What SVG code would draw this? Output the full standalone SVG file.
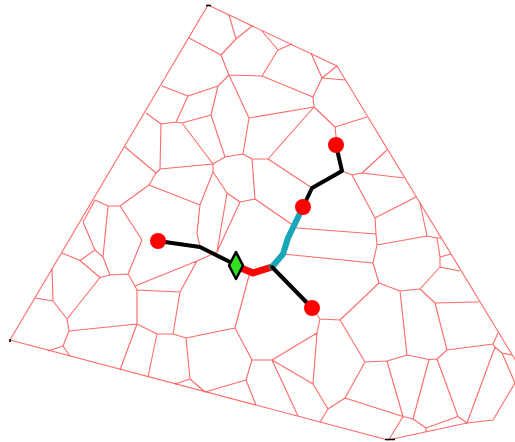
<svg xmlns="http://www.w3.org/2000/svg" width="515" height="442" viewBox="0 0 515 442">
<style>
.cell{fill:none;stroke:#ff4444;stroke-width:1.1;stroke-opacity:0.8;stroke-linejoin:round}
.path{fill:none;stroke-linecap:round;stroke-linejoin:round}
.blk{stroke:#000;stroke-width:4}
.site{fill:#ff0000}
.tick{stroke:#000;stroke-width:1.6}
</style>
<rect width="515" height="442" fill="#fff"/>
<g id="cells">
<path class="cell" d="M208,5L337,66L522,371L493,420L467,423L388,440L10,340Z"/>
<path class="cell" d="M229,15L236,39 M236,39L252,26 M236,39L221,55 M189,38L221,55 M221,55L229,75 M229,75L262,76 M262,76L278,50 M278,50L262,31 M278,50L292,44 M262,76L313,97 M311,53L322,78 M322,78L337,66 M322,78L345,80 M322,78L313,97 M313,97L314,107 M314,107L249,118 M314,107L335,127 M335,127L367,117 M335,127L337,145L342,171 M314,107L268,159 M229,75L218,86 M218,86L188,96 M162,86L188,96 M188,96L176,122 M176,122L182,123 M176,122L161,124 M146,113L161,124 M182,123L211,115 M218,86L211,115 M229,75L249,118 M249,118L243,154 M211,115L225,157 M182,123L213,164 M161,124L160,169 M160,169L213,164 M213,164L225,157 M225,157L243,154 M243,154L252,159 M252,159L268,159 M268,159L312,188 M312,188L342,171 M342,171L352,175 M352,175L362,173 M362,173L387,150 M362,173L404,178 M352,175L375,218 M375,218L416,197 M375,218L376,234 M376,234L297,228 M376,234L377,245 M377,245L427,236 M427,236L420,203 M427,236L437,238 M437,238L441,238 M437,238L440,257 M440,257L451,254 M440,257L440,267 M440,267L460,271 M440,267L420,289 M377,245L373,263 M373,263L283,254 M373,263L379,283 M379,283L340,320 M379,283L400,291 M400,291L420,289 M420,289L435,303 M435,303L479,302 M435,303L447,350 M400,291L407,355 M407,355L429,359.5 M429,359.5L437,359 M437,359L447,350 M447,350L493,344 M493,344L498,333 M493,344L495,347 M495,347L502,353 M502,353L512,355 M502,353L515,383 M495,347L467,423 M437,359L458,416.5 M458,416.5L467,423 M429,359.5L413,419 M413,419L426,428 M426,428L426,432 M426,428L458,416.5 M407,355L387,361 M387,361L365,362 M365,362L340,320 M365,362L345,398 M387,361L403,416.5 M403,416.5L413,419 M403,416.5L389,439.5 M345,398L403,416.5 M345,398L328,409 M328,409L320,422 M328,409L313,384 M313,384L317,333 M313,384L272,360 M317,333L320,319 M320,319L340,320 M320,319L314,311 M317,333L272,360 M272,360L252,360 M272,360L298,416 M252,360L235,328 M252,360L246,380 M246,380L256,405 M246,380L205,392 M235,328L250,272 M235,328L186,338 M186,338L190,379 M190,379L175,384 M190,379L205,392 M186,338L173,334 M173,334L157,334 M173,334L180,292 M157,334L137,324 M157,334L148,377 M137,324L120,370 M137,324L137,290 M137,324L69,331 M69,331L67,319 M69,331L63,346 M63,346L48,351 M63,346L70,356 M67,319L53,301 M53,301L35,298 M53,301L52,269 M67,319L100,277.5 M100,277.5L80,260.5 M80,260.5L62,253 M80,260.5L95,250 M95,250L83,222 M83,222L95,200 M95,250L103,257 M103,257L110,275 M100,277.5L110,275 M110,275L128,274 M128,274L135,286 M135,286L137,290 M128,274L142,240 M142,240L120,206 M103,257L108,206 M108,206L95,200 M108,206L120,206 M120,206L149,185 M149,185L156,173 M156,173L125,147 M156,173L160,169 M149,185L200,205 M137,290L180,292 M135,286L197,261 M180,292L197,261 M197,261L217,252 M217,252L227,193 M217,252L240,202 M240,202L227,193 M227,193L213,172 M213,172L213,164 M213,172L200,205 M240,202L255,199 M255,199L252,159 M255,199L297,228 M200,205L197,233L200,247"/>
<path class="tick" d="M206,5.5H211 M10,339V342 M385,439.5H395"/>
</g>
<g id="connectors">
<path class="path blk" d="M158,241L200,247L236,265"/>
<path class="path" stroke="#ff0000" stroke-width="7" d="M241,268L253,273L272,267"/>
<path class="path" stroke="#17a7b8" stroke-width="6" d="M272,267L283,254L288,238L303,207"/>
<path class="path blk" d="M272,267L312,308"/>
<path class="path blk" d="M303,207L312,188L342,171L336,145"/>
</g>
<g id="site-1"><circle class="site" cx="158" cy="241" r="8"/></g>
<g id="site-2"><circle class="site" cx="303" cy="207" r="8"/></g>
<g id="site-3"><circle class="site" cx="336" cy="145" r="8"/></g>
<g id="site-4"><circle class="site" cx="312" cy="308" r="8"/></g>
<g id="start"><polygon points="236,252 243,265.5 236,279 229,265.5" fill="#33e022" stroke="#000" stroke-width="2.5" stroke-linejoin="round"/></g>
</svg>
